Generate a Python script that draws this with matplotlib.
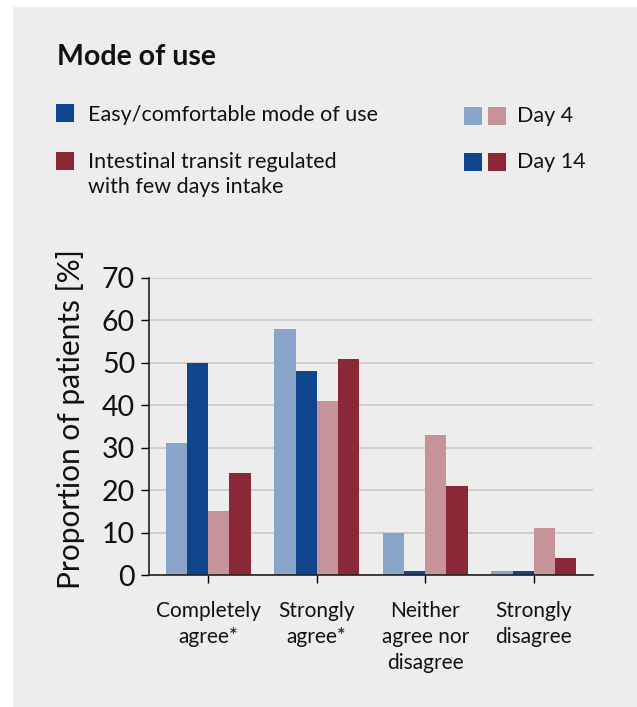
import matplotlib
matplotlib.use("Agg")
import matplotlib.pyplot as plt
from matplotlib.patches import Rectangle
import numpy as np

categories = ["Completely\nagree*", "Strongly\nagree*", "Neither\nagree nor\ndisagree", "Strongly\ndisagree"]
easy_day4 = [31, 58, 10, 1]
easy_day14 = [50, 48, 1, 1]
transit_day4 = [15, 41, 33, 11]
transit_day14 = [24, 51, 21, 4]
yticks = [0, 10, 20, 30, 40, 50, 60, 70]

c_lb = "#88A4C8"
c_db = "#0F458C"
c_lr = "#C6939B"
c_dr = "#8B2838"
bg = "#EDEDED"

plt.rcParams['font.family'] = ['Lato', 'DejaVu Sans']

W, H = 637, 707
fig = plt.figure(figsize=(W/100, H/100), dpi=100)
fig.patch.set_facecolor("white")
fig.patches.append(Rectangle((13/W, 0), 1, 1 - 7/H, transform=fig.transFigure,
                             facecolor=bg, edgecolor="none", zorder=-10))

def fx(px): return px / W
def fy(py): return 1 - py / H

ax = fig.add_axes([fx(149), fy(575), fx(593) - fx(149), fy(278) - fy(575)])
ax.set_facecolor(bg)
x = np.arange(len(categories))
bw = 0.195
series = [(easy_day4, c_lb), (easy_day14, c_db), (transit_day4, c_lr), (transit_day14, c_dr)]
for i, (vals, col) in enumerate(series):
    ax.bar(x + (i - 1.5) * bw, vals, width=bw, color=col, zorder=3)

ax.set_xlim(-0.545, 3.545)
ax.set_ylim(0, 70)
ax.set_yticks(yticks)
ax.set_yticklabels([str(v) for v in yticks], fontsize=20.5, color="#111111")
ax.set_xticks(x)
ax.set_xticklabels(categories, fontsize=15, color="#111111", linespacing=1.35)
ax.tick_params(axis='y', length=6, width=1, pad=4)
ax.tick_params(axis='x', length=6, width=1, pad=13)
ax.grid(axis='y', color="#C8C8C8", linewidth=1.2, zorder=0)
for s in ["top", "right"]:
    ax.spines[s].set_visible(False)
for s in ["left", "bottom"]:
    ax.spines[s].set_color("#222222")
    ax.spines[s].set_linewidth(1.2)
    ax.spines[s].set_zorder(4)
ax.set_ylabel("Proportion of patients [%]", fontsize=21.5, color="#111111")
ax.yaxis.set_label_coords(-(149 - 85) / 444, 0.525)

# Title
fig.text(fx(57), fy(57), "Mode of use", fontsize=20.5, fontweight="bold", va="center", ha="left", color="#111111")

def sq(px, py, col, size=18):
    fig.patches.append(Rectangle((fx(px), fy(py + size)), size / W, size / H,
                                 transform=fig.transFigure, facecolor=col, edgecolor="none"))

fs = 15.5
sq(56, 104, c_db)
fig.text(fx(88), fy(115), "Easy/comfortable mode of use", fontsize=fs, va="center", ha="left", color="#111111")
sq(56, 152, c_dr)
fig.text(fx(88), fy(162), "Intestinal transit regulated", fontsize=fs, va="center", ha="left", color="#111111")
fig.text(fx(88), fy(187), "with few days intake", fontsize=fs, va="center", ha="left", color="#111111")

sq(464, 107, c_lb)
sq(488, 107, c_lr)
fig.text(fx(517), fy(116), "Day 4", fontsize=fs, va="center", ha="left", color="#111111")
sq(464, 153, c_db)
sq(488, 153, c_dr)
fig.text(fx(517), fy(162), "Day 14", fontsize=fs, va="center", ha="left", color="#111111")

fig.savefig("out.png", dpi=100, facecolor=fig.get_facecolor())
